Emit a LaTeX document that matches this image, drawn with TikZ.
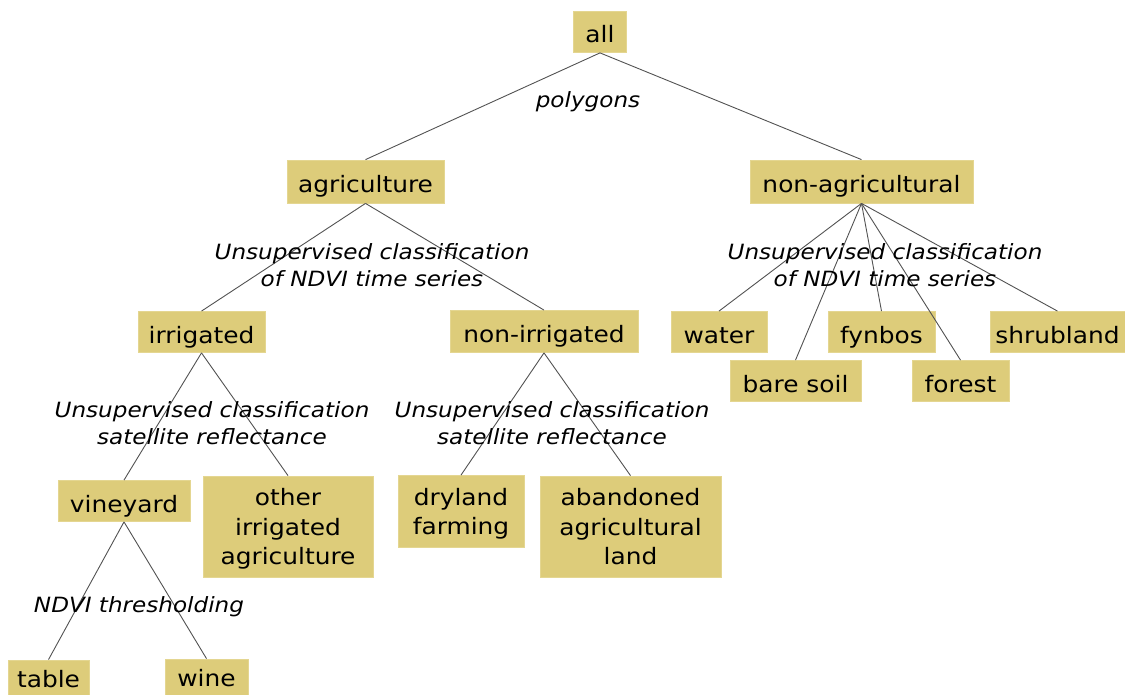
\documentclass[tikz,border=0pt]{standalone}
\usepackage{fontspec}
\setmainfont[FakeStretch=1.1]{DejaVu Sans}
\definecolor{boxc}{RGB}{221,204,122}
\definecolor{boxb}{RGB}{228,214,145}
\newcommand\mysS{\rule[-7pt]{0pt}{36pt}}
\newcommand\mysT{\rule{0pt}{23pt}}
\newcommand\mysB{\rule[-6pt]{0pt}{6pt}}
\newcommand\mysL{\rule[-10pt]{0pt}{33pt}}
\begin{document}
\begin{tikzpicture}[x=1pt,y=-1pt,
  box/.style={fill=boxc, draw=boxb, line width=0.8pt, inner sep=0pt, align=center,
    font=\fontsize{22.6}{29.5}\selectfont},
  lab/.style={inner sep=0pt, align=center, font=\fontsize{21}{27}\selectfont\itshape},
  edge/.style={draw=black!68, line width=0.9pt}]
\useasboundingbox (0,0) rectangle (1125,695);
% nodes
\node[box, minimum width=53, minimum height=41] (all) at (600,32) {\mysS all};
\node[box, minimum width=157, minimum height=43] (agr) at (365.5,181.5) {\mysS agriculture};
\node[box, minimum width=223, minimum height=43] (nag) at (861.5,181.5) {\mysS non-agricultural};
\node[box, minimum width=127, minimum height=41] (irr) at (201.5,332) {\mysS irrigated};
\node[box, minimum width=188, minimum height=42] (nirr) at (544,331.5) {\mysS non-irrigated};
\node[box, minimum width=96, minimum height=41] (wat) at (719,332) {\mysS water};
\node[box, minimum width=131, minimum height=41] (bare) at (795.5,381) {\mysS bare soil};
\node[box, minimum width=107, minimum height=41] (fyn) at (881.5,332) {\mysS fynbos};
\node[box, minimum width=97, minimum height=41] (for) at (960.5,381) {\mysS forest};
\node[box, minimum width=135, minimum height=41] (shr) at (1057.5,332) {\mysS shrubland};
\node[box, minimum width=132, minimum height=41] (vin) at (124,501) {\mysS vineyard};
\node[box, minimum width=170, minimum height=101] (oth) at (288,526.5) {\mysT other\\irrigated\\agriculture\mysB};
\node[box, minimum width=126, minimum height=72] (dry) at (461,511.5) {\mysT dryland\\farming\mysB};
\node[box, minimum width=181, minimum height=101] (aban) at (630.5,526.5) {\mysT abandoned\\agricultural\\land\mysB};
\node[box, minimum width=81, minimum height=42] (tab) at (48.5,681) {\mysL table};
\node[box, minimum width=83, minimum height=42] (win) at (206.5,680) {\mysL wine};
% connectors
\draw[edge] (all.south) -- (agr.north);
\draw[edge] (all.south) -- (nag.north);
\draw[edge] (agr.south) -- (irr.north);
\draw[edge] (agr.south) -- (nirr.north);
\draw[edge] (nag.south) -- (wat.north);
\draw[edge] (nag.south) -- (bare.north);
\draw[edge] (nag.south) -- (fyn.north);
\draw[edge] (nag.south) -- (for.north);
\draw[edge] (nag.south) -- (shr.north);
\draw[edge] (irr.south) -- (vin.north);
\draw[edge] (irr.south) -- (oth.north);
\draw[edge] (nirr.south) -- (dry.north);
\draw[edge] (nirr.south) -- (aban.north);
\draw[edge] (vin.south) -- (tab.north);
\draw[edge] (vin.south) -- (win.north);
% labels
\node[lab] (l0) at (588,102) {polygons};
\node[lab] (l1) at (372,265) {Unsupervised classification\\of NDVI time series};
\node[lab] (l2) at (885,265) {Unsupervised classification\\of NDVI time series};
\node[lab] (l3) at (212,423) {Unsupervised classification\\satellite reflectance};
\node[lab] (l4) at (552,423) {Unsupervised classification\\satellite reflectance};
\node[lab] (l5) at (139,607) {NDVI thresholding};
\end{tikzpicture}
\end{document}
